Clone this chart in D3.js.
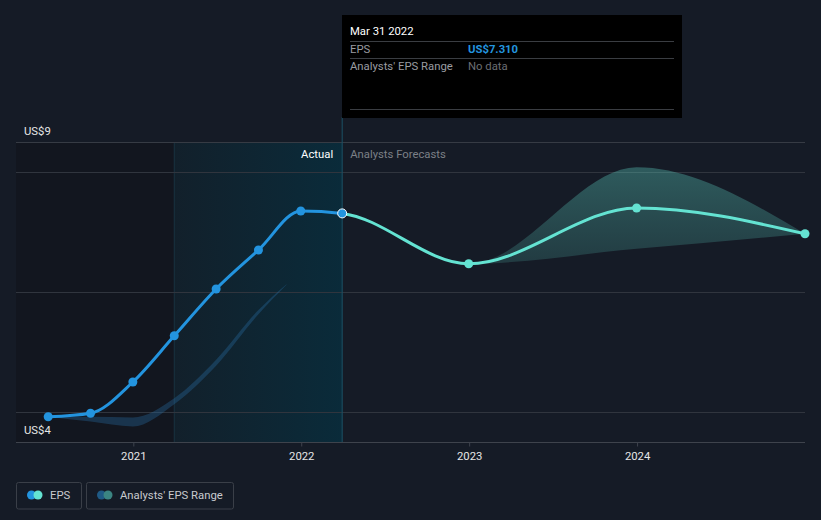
<!DOCTYPE html>
<html>
<head>
<meta charset="utf-8">
<script src="https://cdn.jsdelivr.net/npm/d3@7"></script>
<style>
  html, body { margin: 0; padding: 0; background: #151b26; }
  svg { display: block; font-family: Roboto, "Open Sans", sans-serif; }
</style>
</head>
<body>
<svg id="chart" width="821" height="520"></svg>
<script>
// ---- data ----
const epsDates = ["2020-06-30","2020-09-30","2020-12-31","2021-03-31","2021-06-30","2021-09-30","2021-12-31","2022-03-31"];
const epsValues = [3.92, 3.98, 4.50, 5.27, 6.05, 6.70, 7.35, 7.31];
const forecastDates = ["2022-12-31","2023-12-31","2024-12-31"];
const forecastValues = [6.47, 7.40, 6.97];
const pastRangeDates = ["2020-06-30","2020-09-30","2020-12-31","2021-03-31","2021-06-30","2021-09-30","2021-11-30"];
const pastRangeLow  = [3.92, 3.84, 3.76, 4.13, 4.77, 5.63, 6.12];
const pastRangeHigh = [3.92, 3.92, 3.91, 4.23, 4.87, 5.70, 6.13];
const fcRangeDates = ["2022-03-31","2022-12-31","2023-12-31","2024-12-31"];
const fcRangeLow  = [7.31, 6.47, 6.72, 6.97];
const fcRangeHigh = [7.31, 6.47, 8.08, 6.97];
const xTickYears = ["2021","2022","2023","2024"];
const yTickLabels = ["US$9","US$4"];
const gridValues = [8, 6, 4];
const legendLabels = ["EPS","Analysts' EPS Range"];
const tooltipTitle = "Mar 31 2022";
const tooltipRows = [["EPS","US$7.310"],["Analysts' EPS Range","No data"]];

// ---- setup ----
const parse = d3.timeParse("%Y-%m-%d");
const svg = d3.select("#chart");
const W = 821, H = 520;
const FS = 11.3;
const pL = 16, pR = 805, pT = 142, pB = 442;
const x = d3.scaleTime().domain([parse("2020-04-21"), parse("2024-12-31")]).range([pL, pR]);
const y = d3.scaleLinear().domain([3.5, 8.5]).range([pB, pT]);

const eps = epsDates.map((d,i)=>({date: parse(d), v: epsValues[i]}));
const fc = forecastDates.map((d,i)=>({date: parse(d), v: forecastValues[i]}));
const allLine = eps.concat(fc);
const pastRange = pastRangeDates.map((d,i)=>({date: parse(d), lo: pastRangeLow[i], hi: pastRangeHigh[i]}));
const fcRange = fcRangeDates.map((d,i)=>({date: parse(d), lo: fcRangeLow[i], hi: fcRangeHigh[i]}));
const cutDate = parse("2022-03-31");
const startHighlight = parse("2021-03-31");
const xCut = x(cutDate), xHL = x(startHighlight);

const defs = svg.append("defs");
const hl = defs.append("linearGradient").attr("id","hl").attr("x1","0").attr("x2","1").attr("y1","0").attr("y2","0");
hl.append("stop").attr("offset","0").attr("stop-color","#12202b");
hl.append("stop").attr("offset","1").attr("stop-color","#0a2b3a");
const fg = defs.append("linearGradient").attr("id","fg").attr("x1","0").attr("x2","0").attr("y1","0").attr("y2","1");
fg.append("stop").attr("offset","0").attr("stop-color","#64e3d2").attr("stop-opacity",0.32);
fg.append("stop").attr("offset","1").attr("stop-color","#64e3d2").attr("stop-opacity",0.16);
defs.append("clipPath").attr("id","clipA").append("rect").attr("x",0).attr("y",0).attr("width",xCut).attr("height",H);
defs.append("clipPath").attr("id","clipF").append("rect").attr("x",xCut).attr("y",0).attr("width",W-xCut).attr("height",H);

// background regions
svg.append("rect").attr("x",pL).attr("y",pT).attr("width",xHL-pL).attr("height",pB-pT).attr("fill","#12161f");
svg.append("rect").attr("x",xHL).attr("y",pT).attr("width",xCut-xHL).attr("height",pB-pT).attr("fill","url(#hl)");
svg.append("line").attr("x1",xHL).attr("x2",xHL).attr("y1",pT).attr("y2",pB).attr("stroke","#193340").attr("stroke-width",1);

// grid
svg.append("line").attr("x1",pL).attr("x2",pR).attr("y1",pT+0.5).attr("y2",pT+0.5).attr("stroke","#363b44");
svg.selectAll(".grid").data(gridValues).join("line")
  .attr("x1",pL).attr("x2",pR)
  .attr("y1",d=>Math.round(y(d))+0.5).attr("y2",d=>Math.round(y(d))+0.5)
  .attr("stroke","#30353e");

// x axis
const xAxis = d3.axisBottom(x)
  .tickValues(xTickYears.map(s=>parse(s+"-01-01")))
  .tickFormat(d3.timeFormat("%Y")).tickSize(4).tickPadding(5);
const gx = svg.append("g").attr("transform",`translate(0,${pB+0.5})`).call(xAxis);
gx.select(".domain").attr("stroke","#3e434c").attr("d",`M${pL},0H${pR}`);
gx.selectAll(".tick line").attr("stroke","#3e434c");
gx.selectAll(".tick text").attr("fill","#e6e6e6").attr("font-size",FS).attr("font-family","Roboto, sans-serif");

// y labels
svg.append("text").attr("x",24).attr("y",y(8.5)-7).attr("fill","#e6e6e6").attr("font-size",FS).text(yTickLabels[0]);
svg.append("text").attr("x",24).attr("y",y(3.5)-8).attr("fill","#e6e6e6").attr("font-size",FS).text(yTickLabels[1]);

// vertical cursor line
svg.append("line").attr("x1",xCut).attr("x2",xCut).attr("y1",117).attr("y2",pB).attr("stroke","#1b5266").attr("stroke-width",1);

// section labels
svg.append("text").attr("x",xCut-9).attr("y",158).attr("text-anchor","end").attr("fill","#ffffff").attr("font-size",FS).text("Actual");
svg.append("text").attr("x",xCut+8).attr("y",158).attr("fill","#7c8087").attr("font-size",FS).text("Analysts Forecasts");

// ranges
const area = d3.area().curve(d3.curveMonotoneX).x(d=>x(d.date)).y0(d=>y(d.lo)).y1(d=>y(d.hi));
svg.append("path").datum(pastRange).attr("d",area).attr("fill","#2a6fa8").attr("fill-opacity",0.34);
svg.append("path").datum(fcRange).attr("d",area).attr("fill","url(#fg)");

// line
const line = d3.line().curve(d3.curveMonotoneX).x(d=>x(d.date)).y(d=>y(d.v));
svg.append("path").datum(allLine).attr("d",line).attr("fill","none").attr("stroke","#2394df").attr("stroke-width",3).attr("clip-path","url(#clipA)");
svg.append("path").datum(allLine).attr("d",line).attr("fill","none").attr("stroke","#64e3d2").attr("stroke-width",3).attr("clip-path","url(#clipF)");

// markers
svg.selectAll(".pa").data(eps.slice(0,-1)).join("circle")
  .attr("cx",d=>x(d.date)).attr("cy",d=>y(d.v)).attr("r",4.5).attr("fill","#2394df");
svg.selectAll(".pf").data(fc).join("circle")
  .attr("cx",d=>x(d.date)).attr("cy",d=>y(d.v)).attr("r",4.5).attr("fill","#64e3d2");
const last = eps[eps.length-1];
svg.append("circle").attr("cx",x(last.date)).attr("cy",y(last.v)).attr("r",4.5).attr("fill","#2394df").attr("stroke","#ffffff").attr("stroke-width",1);

// tooltip
const tt = svg.append("g");
tt.append("rect").attr("x",342).attr("y",15).attr("width",340).attr("height",103).attr("fill","#000000");
tt.append("text").attr("x",350).attr("y",35).attr("fill","#ffffff").attr("font-size",FS).text(tooltipTitle);
[41.5, 58.5, 109.5].forEach(yy=>{
  tt.append("line").attr("x1",350).attr("x2",674).attr("y1",yy).attr("y2",yy).attr("stroke","#3a3d42");
});
tt.append("text").attr("x",350).attr("y",52.5).attr("fill","#9a9ca0").attr("font-size",FS).text(tooltipRows[0][0]);
tt.append("text").attr("x",468).attr("y",52.5).attr("fill","#2394df").attr("font-size",FS).attr("font-weight","bold").text(tooltipRows[0][1]);
tt.append("text").attr("x",350).attr("y",70).attr("fill","#9a9ca0").attr("font-size",FS).text(tooltipRows[1][0]);
tt.append("text").attr("x",468).attr("y",70).attr("fill","#6b6e73").attr("font-size",FS).text(tooltipRows[1][1]);

// legend
const lg = svg.append("g");
const boxes = [{x:16.5, w:65, c1:"#2394df", c2:"#64e3d2"},{x:86.5, w:147, c1:"#1f5a85", c2:"#3b8582"}];
boxes.forEach((b,i)=>{
  lg.append("rect").attr("x",b.x).attr("y",482.5).attr("width",b.w).attr("height",26.5).attr("rx",2)
    .attr("fill","none").attr("stroke","#3a3f48");
  lg.append("circle").attr("cx",b.x+15).attr("cy",495).attr("r",4.5).attr("fill",b.c1);
  lg.append("circle").attr("cx",b.x+21.5).attr("cy",495).attr("r",4.5).attr("fill",b.c2);
  lg.append("text").attr("x",b.x+33.5).attr("y",499).attr("fill","#c8cace").attr("font-size",FS).text(legendLabels[i]);
});
</script>
</body>
</html>
